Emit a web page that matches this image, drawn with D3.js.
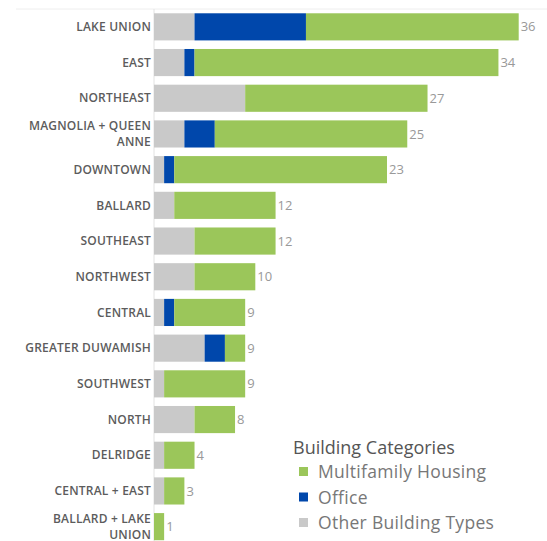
<!DOCTYPE html>
<html lang="en">
<head>
    <meta charset="UTF-8">
    <title>Building Categories by Neighborhood</title>
    <script src="https://d3js.org/d3.v7.min.js"></script>
    <style>
        body {
            margin: 0;
            background-color: white;
        }
        .row-label {
            font-family: "Open Sans", sans-serif;
            font-size: 12px;
            font-weight: 600;
            letter-spacing: 0.2px;
            fill: #5c5c5c;
        }
        .value-label {
            font-family: "Open Sans", sans-serif;
            font-size: 13px;
            fill: #999;
        }
        .legend-title {
            font-family: "Open Sans", sans-serif;
            font-size: 18px;
            font-weight: 500;
            fill: #555;
        }
        .legend-item {
            font-family: "Open Sans", sans-serif;
            font-size: 17.5px;
            letter-spacing: 0.3px;
            fill: #777;
        }
    </style>
</head>
<body>
<script>
    const neighborhoods = ["LAKE UNION", "EAST", "NORTHEAST", "MAGNOLIA + QUEEN ANNE", "DOWNTOWN",
        "BALLARD", "SOUTHEAST", "NORTHWEST", "CENTRAL", "GREATER DUWAMISH", "SOUTHWEST",
        "NORTH", "DELRIDGE", "CENTRAL + EAST", "BALLARD + LAKE UNION"];
    // label lines for the wrapped names
    const labelLines = {
        "MAGNOLIA + QUEEN ANNE": ["MAGNOLIA + QUEEN", "ANNE"],
        "BALLARD + LAKE UNION": ["BALLARD + LAKE", "UNION"]
    };
    const otherTypes  = [4, 3, 9, 3, 1, 2, 4, 4, 1, 5, 1, 4, 1, 1, 0];
    const office      = [11, 1, 0, 3, 1, 0, 0, 0, 1, 2, 0, 0, 0, 0, 0];
    const multifamily = [21, 30, 18, 19, 21, 10, 8, 6, 7, 2, 8, 4, 3, 2, 1];

    const categories = ["Other Building Types", "Office", "Multifamily Housing"];
    const legendOrder = ["Multifamily Housing", "Office", "Other Building Types"];
    const colors = ["#c9c9c9", "#0047ab", "#9bc65a"];

    const width = 547, height = 541;
    const marginLeft = 154, marginTop = 9;

    const rows = neighborhoods.map((n, i) => ({
        name: n,
        "Other Building Types": otherTypes[i],
        "Office": office[i],
        "Multifamily Housing": multifamily[i],
        total: otherTypes[i] + office[i] + multifamily[i]
    }));

    const svg = d3.select("body")
        .append("svg")
        .attr("width", width)
        .attr("height", height);

    const x = d3.scaleLinear()
        .domain([0, 36])
        .range([marginLeft, 518.7]);

    const y = d3.scaleBand()
        .domain(neighborhoods)
        .range([marginTop, marginTop + 15 * 35.7])
        .paddingInner(0.24)
        .paddingOuter(0.12);

    const color = d3.scaleOrdinal().domain(categories).range(colors);

    const stacked = d3.stack().keys(categories)(rows);

    // top rule and axis line
    svg.append("line")
        .attr("x1", 16).attr("x2", width)
        .attr("y1", marginTop).attr("y2", marginTop)
        .attr("stroke", "#eeeeee");
    svg.append("line")
        .attr("x1", marginLeft).attr("x2", marginLeft)
        .attr("y1", marginTop).attr("y2", height)
        .attr("stroke", "#e2e2e2");

    svg.append("g")
        .selectAll("g")
        .data(stacked)
        .join("g")
        .attr("fill", d => color(d.key))
        .selectAll("rect")
        .data(d => d)
        .join("rect")
        .attr("x", d => x(d[0]))
        .attr("y", d => y(d.data.name))
        .attr("width", d => x(d[1]) - x(d[0]))
        .attr("height", y.bandwidth());

    // row labels
    const labels = svg.append("g")
        .selectAll("text")
        .data(rows)
        .join("text")
        .attr("class", "row-label")
        .attr("text-anchor", "end")
        .attr("x", marginLeft - 3)
        .attr("y", d => y(d.name) + y.bandwidth() / 2);

    labels.each(function(d) {
        const lines = labelLines[d.name] || [d.name];
        const t = d3.select(this);
        lines.forEach((l, i) => {
            t.append("tspan")
                .attr("x", marginLeft - 3)
                .attr("dy", i === 0 ? (0.35 - (lines.length - 1) * 0.65) + "em" : "1.3em")
                .text(l);
        });
    });

    // totals
    svg.append("g")
        .selectAll("text")
        .data(rows)
        .join("text")
        .attr("class", "value-label")
        .attr("x", d => x(d.total) + 2)
        .attr("y", d => y(d.name) + y.bandwidth() / 2)
        .attr("dy", "0.35em")
        .text(d => d.total);

    // legend
    const legend = svg.append("g").attr("transform", "translate(293,0)");
    legend.append("text")
        .attr("class", "legend-title")
        .attr("x", 0)
        .attr("y", 454)
        .text("Building Categories");

    legend.selectAll("g.item")
        .data(legendOrder)
        .join("g")
        .attr("class", "item")
        .attr("transform", (d, i) => `translate(0,${472 + i * 25.5})`)
        .each(function(d) {
            const g = d3.select(this);
            g.append("rect")
                .attr("x", 6).attr("y", -5)
                .attr("width", 9).attr("height", 9)
                .attr("fill", color(d));
            g.append("text")
                .attr("class", "legend-item")
                .attr("x", 25)
                .attr("dy", "0.35em")
                .text(d);
        });
</script>
</body>
</html>
